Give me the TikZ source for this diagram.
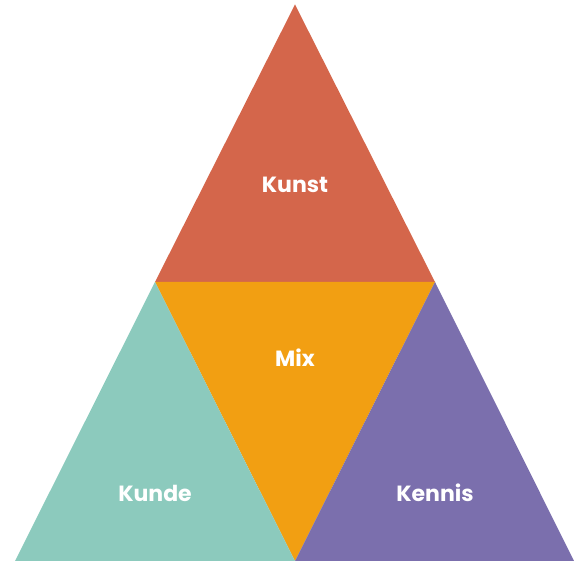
\documentclass[tikz,border=0pt]{standalone}
\usepackage{fontspec}
\setmainfont{Poppins}
\definecolor{kunst}{HTML}{D4664B}
\definecolor{mix}{HTML}{F29F12}
\definecolor{kunde}{HTML}{8CCABD}
\definecolor{kennis}{HTML}{7B6FAD}
\begin{document}
\begin{tikzpicture}[x=1pt,y=-1pt,
  lbl/.style={text=white,font=\fontsize{22}{26}\selectfont\bfseries}]
\useasboundingbox (0,0) rectangle (574,572);
\coordinate (T) at (295,4.5);
\coordinate (L) at (15,561);
\coordinate (R) at (574,561);
\coordinate (ML) at (155,282);
\coordinate (MR) at (435,282);
\coordinate (MB) at (295,561);
\fill[kunst] (T) -- (MR) -- (ML) -- cycle;
\fill[mix] (ML) -- (MR) -- (MB) -- cycle;
\fill[kunde] (ML) -- (MB) -- (L) -- cycle;
\fill[kennis] (MR) -- (R) -- (MB) -- cycle;
\node[lbl] (kunst) at (295,185) {Kunst};
\node[lbl] (mix) at (295,358) {Mix};
\node[lbl] (kunde) at (155,493) {Kunde};
\node[lbl] (kennis) at (435,493) {Kennis};
\end{tikzpicture}
\end{document}
